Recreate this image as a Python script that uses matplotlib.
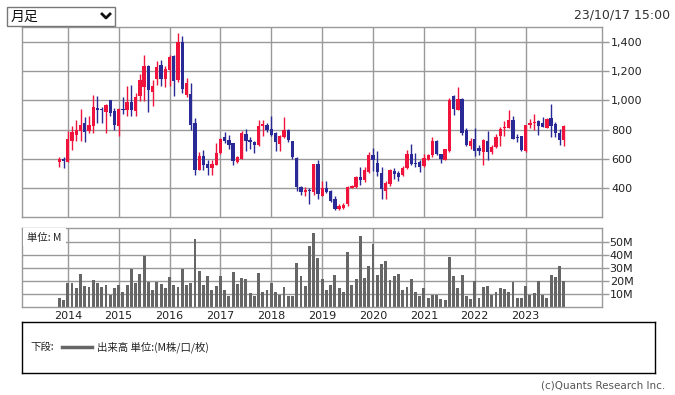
import numpy as np
import matplotlib.pyplot as plt
from matplotlib.lines import Line2D
from matplotlib.patches import Rectangle

# monthly candles, Nov 2013 .. Oct 2023
opens = [580, 598,
         580, 723, 765, 787, 845, 787, 828, 950, 943, 922, 1000, 925,
         822, 938, 936, 991, 925, 1027, 1089, 1238, 1055, 1149, 1245, 1146,
         1210, 1306, 1137, 1400, 1039, 1043, 845, 525, 620, 566, 540, 559,
         639, 746, 730, 707, 575, 600, 771, 730, 717, 691, 822, 833,
         805, 777, 702, 747, 795, 720, 606, 407, 375, 389, 370, 565,
         347, 400, 382, 325, 258, 263, 290, 402, 407, 475, 455, 512,
         623, 568, 504, 379, 425, 516, 500, 486, 539, 636, 573, 577,
         550, 595, 623, 725, 630, 595, 652, 1027, 936, 1009, 800, 685,
         737, 674, 647, 724, 645, 679, 753, 809, 813, 865, 746, 753,
         652, 831, 843, 858, 843, 813, 876, 838, 780, 726]
highs = [610, 610,
         787, 822, 867, 941, 886, 890, 1034, 1032, 954, 977, 1005, 947,
         947, 1020, 1100, 1107, 1048, 1180, 1313, 1245, 1142, 1267, 1279, 1238,
         1313, 1313, 1462, 1443, 1153, 1119, 879, 643, 657, 593, 593, 707,
         740, 783, 760, 710, 620, 787, 806, 746, 720, 867, 867, 845,
         891, 784, 766, 885, 805, 722, 610, 416, 405, 400, 567, 594,
         446, 446, 384, 343, 290, 297, 416, 423, 480, 542, 546, 649,
         675, 652, 545, 448, 532, 539, 516, 550, 657, 698, 641, 595,
         630, 636, 750, 732, 636, 668, 1016, 1039, 1095, 1016, 812, 742,
         813, 697, 737, 793, 697, 771, 816, 861, 933, 892, 771, 755,
         833, 872, 910, 865, 888, 881, 978, 849, 802, 831]
lows = [545, 538,
        575, 662, 719, 723, 712, 780, 780, 845, 845, 774, 890, 794,
        753, 905, 890, 890, 890, 993, 993, 918, 959, 1107, 1096, 1091,
        1096, 1027, 1123, 1050, 1021, 799, 486, 520, 525, 486, 486, 555,
        634, 707, 669, 559, 570, 598, 650, 666, 639, 688, 753, 783,
        754, 651, 651, 743, 715, 601, 377, 354, 343, 290, 354, 327,
        343, 368, 306, 251, 251, 256, 279, 398, 400, 423, 440, 505,
        516, 482, 327, 327, 414, 459, 448, 482, 532, 557, 545, 511,
        545, 593, 614, 623, 568, 591, 645, 898, 932, 760, 687, 670,
        618, 629, 555, 589, 636, 674, 690, 757, 809, 735, 715, 652,
        647, 809, 798, 760, 816, 809, 746, 746, 697, 685]
closes = [600, 582,
          737, 783, 799, 831, 783, 831, 954, 931, 931, 970, 913, 829,
          943, 933, 991, 931, 1025, 1142, 1233, 1069, 1096, 1229, 1149, 1215,
          1297, 1135, 1400, 1080, 1119, 833, 520, 616, 559, 540, 566, 639,
          737, 723, 696, 582, 609, 780, 723, 712, 691, 826, 840, 794,
          763, 713, 754, 795, 731, 610, 405, 370, 384, 377, 565, 359,
          400, 370, 313, 258, 274, 286, 407, 416, 475, 453, 523, 626,
          589, 509, 391, 436, 523, 493, 477, 539, 636, 561, 564, 545,
          607, 623, 725, 630, 600, 664, 1000, 941, 1009, 777, 691, 724,
          656, 652, 730, 645, 679, 746, 804, 820, 865, 737, 742, 658,
          831, 847, 854, 827, 820, 870, 827, 780, 726, 827]
volume = [7.0, 5.7,
          18.2, 18.2, 14.3, 25.2, 15.8, 15.1, 20.5, 18.2, 15.1, 16.6, 9.4, 14.3,
          16.6, 11.9, 16.6, 29.1, 18.2, 25.2, 39.2, 19.0, 12.7, 19.0, 17.4, 14.3,
          22.9, 16.6, 15.1, 29.6, 16.6, 18.2, 52.5, 27.5, 16.6, 23.6, 12.7, 15.8,
          23.6, 12.7, 8.1, 26.8, 17.4, 22.1, 21.3, 10.4, 8.8, 26.0, 11.9, 12.7,
          18.2, 11.2, 9.6, 15.1, 8.1, 8.8, 33.8, 23.6, 15.8, 47.0, 57.1, 37.7,
          21.3, 12.7, 16.6, 24.4, 14.3, 11.2, 42.3, 16.6, 21.3, 54.8, 22.1, 31.4,
          48.6, 24.4, 33.0, 35.3, 20.5, 23.6, 25.2, 12.7, 15.1, 21.3, 11.2, 8.1,
          14.3, 7.3, 9.6, 9.6, 6.5, 5.7, 38.4, 23.6, 14.3, 24.4, 8.8, 6.5,
          19.7, 7.3, 15.1, 15.8, 9.6, 11.2, 14.3, 13.5, 11.2, 19.0, 7.3, 7.3,
          15.8, 9.6, 10.4, 19.7, 9.6, 7.3, 24.4, 22.9, 31.4, 19.7]
years = ['2014', '2015', '2016', '2017', '2018', '2019', '2020', '2021', '2022', '2023']
price_ticks = [400, 600, 800, 1000, 1200, 1400]
vol_ticks = [10, 20, 30, 40, 50]

UP = '#f0143c'
DOWN = '#2a2a96'
GRID = '#999999'
JP = ['Noto Sans CJK JP', 'DejaVu Sans']

o = np.array(opens, float)
h = np.array(highs, float)
l = np.array(lows, float)
c = np.array(closes, float)
idx = np.arange(len(o))
year_pos = [2 + 12 * k for k in range(len(years))]  # January of each year
cols = [UP if c[i] >= o[i] else DOWN for i in idx]

W, H = 675, 395
fig = plt.figure(figsize=(6.75, 3.95), dpi=100)

def box(x0, y0, x1, y1):
    # pixel box (top-left origin) -> figure rect
    return [x0 / W, 1 - y1 / H, (x1 - x0) / W, (y1 - y0) / H]

def style(ax, pad):
    ax.set_xlim(-8.8, 128)
    for s in ax.spines.values():
        s.set_color(GRID)
        s.set_linewidth(1)
    ax.set_xticks(year_pos)
    ax.grid(True, color=GRID, lw=1)
    ax.set_axisbelow(True)
    ax.yaxis.tick_right()
    ax.tick_params(axis='y', direction='out', length=5, width=1, color=GRID,
                   labelsize=8, pad=pad, labelcolor='#222222')
    ax.tick_params(axis='x', length=0)

# price panel
ax = fig.add_axes(box(22, 27, 602, 217))
style(ax, 1.5)
ax.set_ylim(201, 1503)
ax.set_yticks(price_ticks)
ax.set_yticklabels([f'{v:,}' for v in price_ticks])
ax.set_xticklabels([])
ax.vlines(idx, l, h, colors=cols, lw=1)
body = np.maximum(np.abs(c - o), 7)
ax.bar(idx, body, bottom=np.minimum(o, c), width=0.78, color=cols, lw=0)

# volume panel
av = fig.add_axes(box(22, 228, 602, 307))
style(av, 0.5)
av.set_ylim(0, 60.8)
av.set_yticks(vol_ticks)
av.set_yticklabels([f'{v}M' for v in vol_ticks])
av.set_xticklabels(years, fontsize=8, color='#222222')
av.tick_params(axis='x', pad=3)
av.bar(idx, volume, width=0.68, color='#666666', lw=0)
av.add_patch(Rectangle((0.002, 0.77), 0.074, 0.225, transform=av.transAxes,
                       facecolor='white', edgecolor='none', zorder=3))
av.text(0.008, 0.88, '単位: M', transform=av.transAxes, fontsize=7.5,
        family=JP, va='center', ha='left', color='#222222', zorder=4)

# legend box
lg = fig.add_axes(box(22, 322, 655, 373))
lg.set_xticks([])
lg.set_yticks([])
for s in lg.spines.values():
    s.set_color('black')
    s.set_linewidth(1)
fig.text(30 / W, 1 - 347 / H, '下段:', fontsize=7.5, family=JP, va='center', color='#222222')
fig.add_artist(Line2D([62 / W, 92 / W], [1 - 347 / H, 1 - 347 / H], color='#666666', lw=2.5))
fig.text(97 / W, 1 - 347 / H, '出来高 単位:(M株/口/枚)', fontsize=7.5, family=JP,
         va='center', color='#222222')

# dropdown at top-left
fig.add_artist(Rectangle((7 / W, 1 - 26 / H), 108 / W, 19 / H, transform=fig.transFigure,
                         facecolor='white', edgecolor='#777777', lw=1))
fig.text(11 / W, 1 - 16.5 / H, '月足', fontsize=10, family=JP, va='center', color='#111111')
fig.add_artist(Line2D([102 / W, 106 / W, 110 / W], [1 - 14 / H, 1 - 18 / H, 1 - 14 / H],
                      color='#111111', lw=2))

fig.text(670 / W, 1 - 15 / H, '23/10/17 15:00', fontsize=9, ha='right', va='center',
         color='#333333')
fig.text(665 / W, 1 - 385 / H, '(c)Quants Research Inc.', fontsize=7.5, ha='right',
         va='center', color='#555555')

fig.savefig('out.png', dpi=100)
